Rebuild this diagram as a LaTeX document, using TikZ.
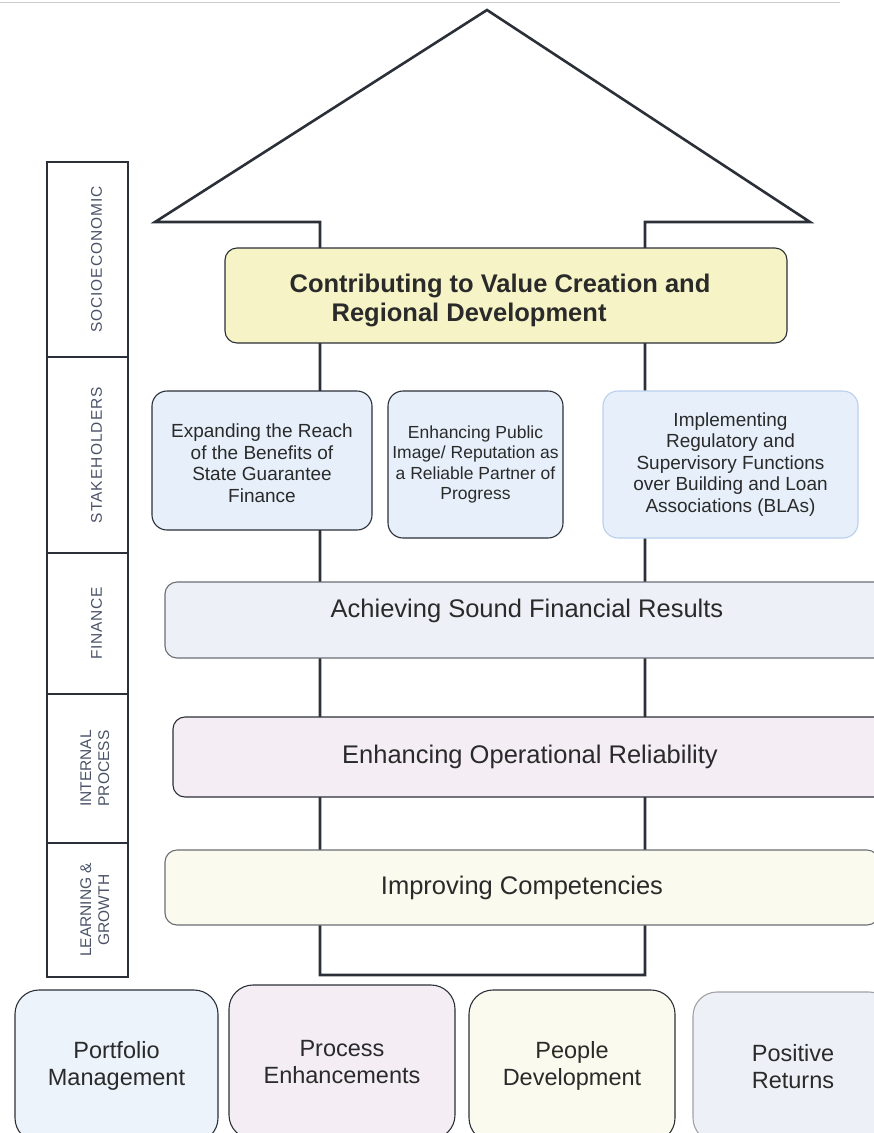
\documentclass[tikz,border=0pt]{standalone}
\usepackage{fontspec}
\setmainfont{Liberation Sans}
\usetikzlibrary{positioning}

\definecolor{edge}{HTML}{2B2F38}
\definecolor{ink}{HTML}{2A2A2A}
\definecolor{side}{HTML}{4A5266}
\definecolor{goal}{HTML}{F6F4C6}
\definecolor{sky}{HTML}{E7F0FA}
\definecolor{skyline}{HTML}{B9D0EC}
\definecolor{fin}{HTML}{EDF1F7}
\definecolor{lilac}{HTML}{F4EEF4}
\definecolor{cream}{HTML}{FBFAEE}

% shift a label up or down without changing its box
\newcommand{\nudge}[2]{\raisebox{#1}[\height][\depth]{#2}}

\begin{document}
\begin{tikzpicture}[x=1pt, y=-1pt,
    box/.style={draw=edge, line width=1.1pt, rounded corners=12pt, align=center,
                text=ink, inner sep=0pt},
    goalbox/.style={box, fill=goal, font=\fontsize{25.5}{29}\selectfont\bfseries},
    stakebox/.style={box, fill=sky, rounded corners=15pt, font=\fontsize{19}{21.5}\selectfont},
    barbox/.style={box, draw=edge!70, font=\fontsize{25.5}{29}\selectfont},
    basebox/.style={box, rounded corners=24pt, font=\fontsize{23.5}{27}\selectfont},
    lane/.style={draw=edge, line width=1.1pt, minimum width=81pt, inner sep=0pt,
                 text=side, align=center, font=\fontsize{15.5}{18}\selectfont}]

\useasboundingbox (0,0) rectangle (874,1133);
\clip (0,0) rectangle (874,1133);

\draw[gray!40, line width=1pt] (0,2) -- (840,2);

% house shaped arrow behind the goals
\draw[edge, line width=2.6pt] (320,975) -- (320,222) -- (155,222) -- (487,10)
    -- (810,222) -- (645,222) -- (645,975) -- cycle;

% perspectives on the left
\node[lane, minimum height=195pt] (socio) at (87.5,259.5)
    {\hspace*{18pt}\rotatebox{90}{\addfontfeature{LetterSpace=6}SOCIOECONOMIC}};
\node[lane, minimum height=196pt] (stake) at (87.5,455)
    {\hspace*{18pt}\rotatebox{90}{\addfontfeature{LetterSpace=7}STAKEHOLDERS}};
\node[lane, minimum height=141pt] (finance) at (87.5,623.5)
    {\hspace*{18pt}\rotatebox{90}{\addfontfeature{LetterSpace=4}FINANCE}};
\node[lane, minimum height=149pt] (process) at (87.5,768.5)
    {\hspace*{18pt}\rotatebox{90}{\begin{tabular}{@{}c@{}}INTERNAL\\PROCESS\end{tabular}}};
\node[lane, minimum height=134pt] (growth) at (87.5,910)
    {\hspace*{18pt}\rotatebox{90}{\begin{tabular}{@{}c@{}}LEARNING \&\\GROWTH\end{tabular}}};

% objectives
\node[goalbox, minimum width=562pt, minimum height=95pt] (value) at (506,295.5)
    {\nudge{-6pt}{\begin{tabular}{@{}l@{}}Contributing to Value Creation and\hspace*{12pt}\\
     \hspace*{42pt}Regional Development\end{tabular}}};

\node[stakebox, minimum width=220pt, minimum height=139pt] (reach) at (262,460.5)
    {\nudge{-5pt}{\begin{tabular}{@{}c@{}}Expanding the Reach\\of the Benefits of\\State Guarantee\\Finance\end{tabular}}};
\node[stakebox, font=\fontsize{17.5}{20.5}\selectfont, minimum width=175pt, minimum height=147pt] (image) at (475.5,464.5)
    {Enhancing Public\\Image/ Reputation as\\a Reliable Partner of\\Progress};
\node[stakebox, draw=skyline, minimum width=255pt, minimum height=147pt] (regulate) at (730.5,464.5)
    {Implementing\\Regulatory and\\Supervisory Functions\\over Building and Loan\\Associations (BLAs)};

\node[barbox, fill=fin, minimum width=724pt, minimum height=76pt] (results) at (527,620)
    {\nudge{9pt}{Achieving Sound Financial Results}};
\node[barbox, fill=lilac, draw=edge, minimum width=714pt, minimum height=80pt] (reliab) at (530,757)
    {Enhancing Operational Reliability};
\node[barbox, fill=cream, minimum width=714pt, minimum height=75pt] (compet) at (522,887.5)
    {Improving Competencies};

% foundations
\node[basebox, fill=sky!80, minimum width=203pt, minimum height=152pt] (portfolio) at (116.5,1066)
    {Portfolio\\Management};
\node[basebox, fill=lilac, minimum width=226pt, minimum height=154pt] (enhance) at (342,1062)
    {Process\\Enhancements};
\node[basebox, fill=cream, minimum width=206pt, minimum height=152pt] (people) at (572,1066)
    {People\\Development};
\node[basebox, fill=fin, draw=edge!45, minimum width=200pt, minimum height=150pt] (returns) at (793,1067)
    {Positive\\Returns};
\end{tikzpicture}
\end{document}
